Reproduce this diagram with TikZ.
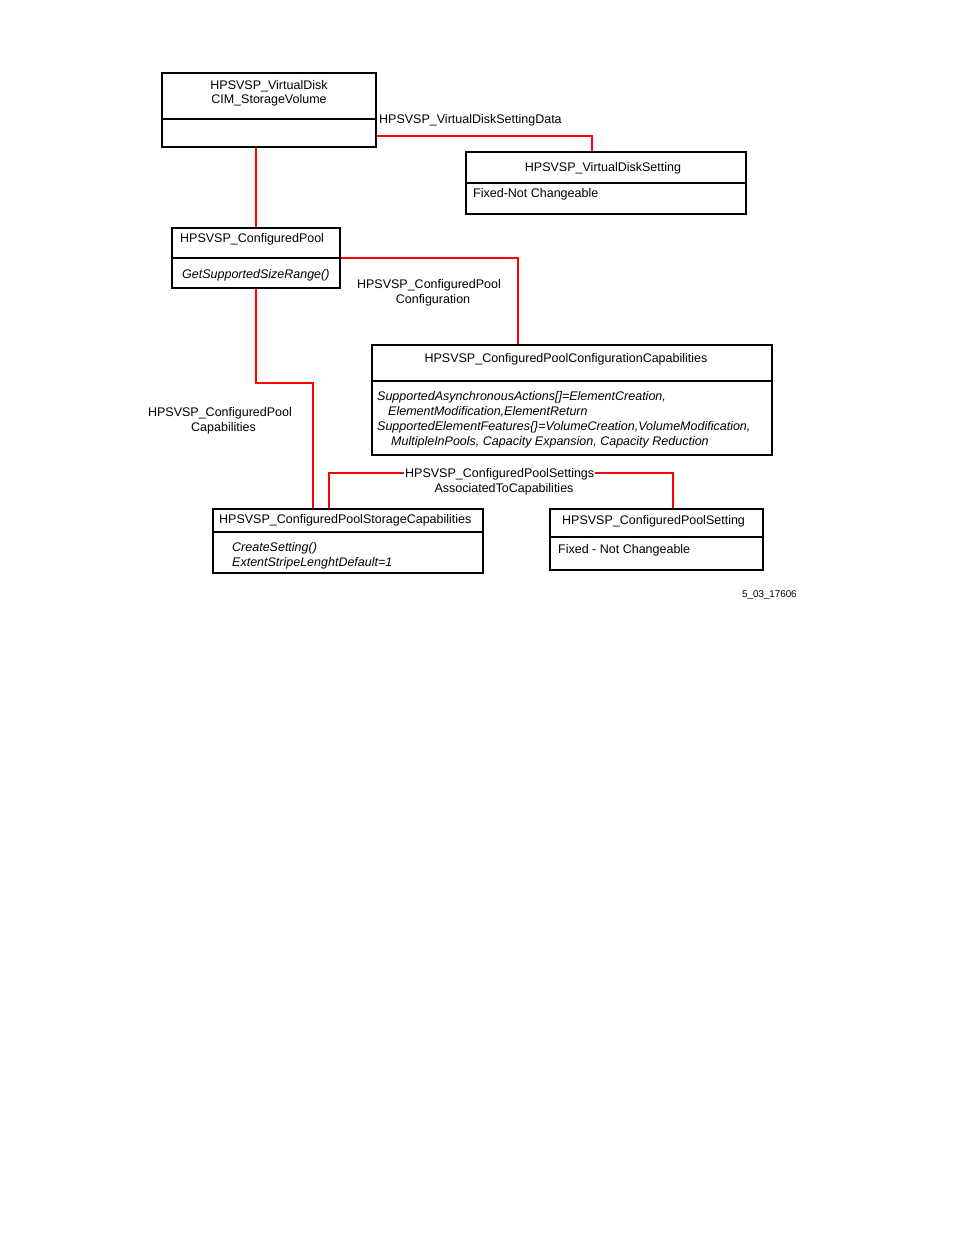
\documentclass[tikz,border=0pt]{standalone}
\usepackage{fontspec}
\setmainfont{Liberation Sans}
\begin{document}
\begin{tikzpicture}[x=1pt,y=-1pt,
  box/.style={draw=black,line width=1.3pt,inner sep=0pt},
  divider/.style={draw=black,line width=1.3pt},
  conn/.style={draw=red,line width=2pt},
  txt/.style={inner sep=0pt,font=\fontsize{12.5}{14}\selectfont,text height=9pt,text depth=0pt},
  itxt/.style={txt,font=\fontsize{12.5}{14}\selectfont\itshape}]
\useasboundingbox (0,0) rectangle (954,1235);
\fill[white] (0,0) rectangle (954,1235);
% boxes
\node[box,minimum width=214pt,minimum height=74pt] (vd) at (269,110) {};
\draw[divider] (162,119) -- (376,119);
\node[box,minimum width=280pt,minimum height=62pt] (vds) at (606,183) {};
\draw[divider] (466,183) -- (746,183);
\node[box,minimum width=168pt,minimum height=60pt] (cp) at (256,258) {};
\draw[divider] (172,258) -- (340,258);
\node[box,minimum width=400pt,minimum height=110pt] (cpcc) at (572,400) {};
\draw[divider] (372,381) -- (772,381);
\node[box,minimum width=270pt,minimum height=64pt] (cs) at (348,541) {};
\draw[divider] (213,532) -- (483,532);
\node[box,minimum width=213pt,minimum height=61pt] (cps) at (656.5,539.5) {};
\draw[divider] (550,537) -- (763,537);
% box texts
\node[txt] (t1a) at (269,85) {HPSVSP\_VirtualDisk};
\node[txt] (t1b) at (269,99) {CIM\_StorageVolume};
\node[txt] (t2a) at (603,167) {HPSVSP\_VirtualDiskSetting};
\node[txt,anchor=west] (t2b) at (473,193) {Fixed-Not Changeable};
\node[txt,anchor=west] (t3a) at (180,238) {HPSVSP\_ConfiguredPool};
\node[itxt,anchor=west] (t3b) at (182,274) {GetSupportedSizeRange()};
\node[txt] (t4a) at (566,358) {HPSVSP\_ConfiguredPoolConfigurationCapabilities};
\node[itxt,anchor=west] (t4b) at (377,396) {SupportedAsynchronousActions[]=ElementCreation,};
\node[itxt,anchor=west] (t4c) at (388,411) {ElementModification,ElementReturn};
\node[itxt,anchor=west] (t4d) at (377,426) {SupportedElementFeatures\{\}=VolumeCreation,VolumeModification,};
\node[itxt,anchor=west] (t4e) at (391,441) {MultipleInPools, Capacity Expansion, Capacity Reduction};
\node[txt,anchor=west] (t5a) at (219,519) {HPSVSP\_ConfiguredPoolStorageCapabilities};
\node[itxt,anchor=west] (t5b) at (232,547) {CreateSetting()};
\node[itxt,anchor=west] (t5c) at (232,562) {ExtentStripeLenghtDefault=1};
\node[txt,anchor=west] (t6a) at (562,520) {HPSVSP\_ConfiguredPoolSetting};
\node[txt,anchor=west] (t6b) at (558,549) {Fixed - Not Changeable};
% connector labels
\node[txt,anchor=west] (l1) at (379,119) {HPSVSP\_VirtualDiskSettingData};
\node[txt] (l2a) at (429,284) {HPSVSP\_ConfiguredPool};
\node[txt] (l2b) at (433,299) {Configuration};
\node[txt] (l3a) at (220,412) {HPSVSP\_ConfiguredPool};
\node[txt] (l3b) at (223.5,427) {Capabilities};
\node[txt,anchor=west,inner xsep=1pt] (l4a) at (404,473) {HPSVSP\_ConfiguredPoolSettings};
\node[txt] (l4b) at (504,488) {AssociatedToCapabilities};
\node[inner sep=0pt,font=\fontsize{9.8}{11}\selectfont,anchor=west] (fig) at (742,595) {5\_03\_17606};
% connectors
\coordinate (c1) at (592,136);
\coordinate (c2) at (518,258);
\coordinate (c3) at (313,383);
\coordinate (c4) at (329,473);
\coordinate (c5) at (673,473);
\draw[conn] (vd.east |- c1) -- (c1) -- (c1 |- vds.north);
\draw[conn] (cp.north |- vd.south) -- (cp.north);
\draw[conn] (cp.east |- c2) -- (c2) -- (c2 |- cpcc.north);
\draw[conn] (cp.south) |- (c3) -- (c3 |- cs.north);
\draw[conn] (c4 |- cs.north) -- (c4) -- (l4a.west |- c4);
\draw[conn] (l4a.east |- c5) -- (c5) -- (c5 |- cps.north);
\end{tikzpicture}
\end{document}
